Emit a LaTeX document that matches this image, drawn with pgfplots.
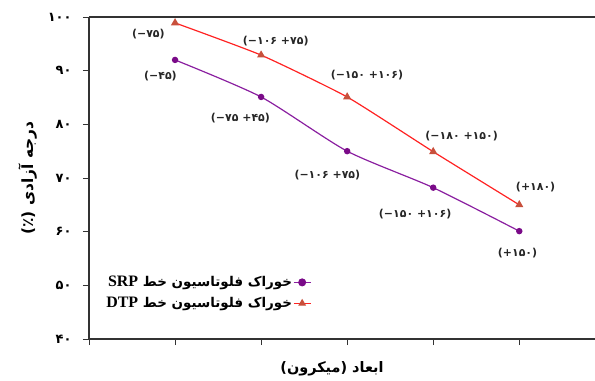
\documentclass[border=0pt]{standalone}
\usepackage{pgfplots}
\pgfplotsset{compat=1.18}
\usepackage{fontspec}
\setmainfont{Liberation Serif}
\newfontfamily\fa[Script=Arabic]{DejaVu Sans}
\newfontfamily\lat{Liberation Serif}
\TeXXeTstate=1
\definecolor{srp}{HTML}{8A1FA0}
\definecolor{srpm}{HTML}{7A0A88}
\definecolor{dtp}{HTML}{FF2222}
\definecolor{dtpm}{HTML}{C8503C}
\definecolor{ax}{HTML}{333333}
\begin{document}
\begin{tikzpicture}
\begin{axis}[
    scale only axis,
    width=506bp, height=322bp,
    xmin=0, xmax=5.88,
    ymin=40, ymax=100,
    axis x line*=bottom, axis y line*=left,
    axis line style={ax, line width=1.6pt, -},
    xtick={0,1,2,3,4,5}, xticklabels={},
    ytick={40,50,60,70,80,90,100},
    yticklabels={۴۰,۵۰,۶۰,۷۰,۸۰,۹۰,۱۰۰},
    yticklabel style={font=\fa\bfseries\fontsize{13}{14}\selectfont, xshift=-8bp},
    tick align=outside,
    major tick length=6bp,
    tick style={ax, line width=0.8pt},
    ylabel={\fa\bfseries\beginR درجه آزادی (٪)\endR},
    ylabel style={font=\fontsize{15.5}{17}\selectfont, yshift=4bp},
    xlabel={\fa\bfseries\beginR ابعاد (میکرون)\endR},
    xlabel style={font=\fontsize{14.5}{16}\selectfont, xshift=-10bp, yshift=-6bp},
    legend style={draw=none, fill=none, at={(axis cs:2.62,48.6)}, anchor=east,
        font=\fa\bfseries\fontsize{13.5}{15}\selectfont, row sep=7bp,
        nodes={inner sep=1bp}},
    legend image post style={mark size=3.4pt},
    legend plot pos=right,
    legend cell align=right,
    clip=false,
]
\addplot[srp, line width=1.2pt, smooth, tension=0.4, mark=*, mark size=2.6pt,
    mark options={fill=srpm, draw=srpm}]
    coordinates {(1,92.0) (2,85.1) (3,75.0) (4,68.2) (5,60.1)};
\addlegendentry{\beginR خوراک فلوتاسیون خط \beginL{\lat\bfseries\fontsize{16}{16}\selectfont SRP}\endL\endR}
\addplot[dtp, line width=1.2pt, smooth, tension=0.3, mark=triangle*, mark size=3.6pt,
    mark options={fill=dtpm, draw=dtpm}]
    coordinates {(1,98.9) (2,92.9) (3,85.1) (4,74.9) (5,65.0)};
\addlegendentry{\beginR خوراک فلوتاسیون خط \beginL{\lat\bfseries\fontsize{16}{16}\selectfont DTP}\endL\endR}
\draw[ax, line width=1.6pt] (rel axis cs:0,1) -- (rel axis cs:1,1);
\begin{scope}[every node/.style={font=\fa\bfseries\fontsize{11}{12}\selectfont, text=black!85}]
\node at (axis cs:0.69,96.8) {\beginR(۷۵−)\endR};
\node at (axis cs:2.17,95.5) {\beginR(۷۵+ ۱۰۶−)\endR};
\node at (axis cs:3.23,89.2) {\beginR(۱۰۶+ ۱۵۰−)\endR};
\node at (axis cs:4.33,77.8) {\beginR(۱۵۰+ ۱۸۰−)\endR};
\node at (axis cs:5.19,68.3) {\beginR(۱۸۰+)\endR};
\node at (axis cs:0.83,89.0) {\beginR(۴۵−)\endR};
\node at (axis cs:1.76,81.2) {\beginR(۴۵+ ۷۵−)\endR};
\node at (axis cs:2.77,70.6) {\beginR(۷۵+ ۱۰۶−)\endR};
\node at (axis cs:3.79,63.3) {\beginR(۱۰۶+ ۱۵۰−)\endR};
\node at (axis cs:4.98,56.0) {\beginR(۱۵۰+)\endR};
\end{scope}
\end{axis}
\pgfresetboundingbox
\path[use as bounding box] (-89bp,-42bp) rectangle (506bp,339bp);
\end{tikzpicture}
\end{document}
